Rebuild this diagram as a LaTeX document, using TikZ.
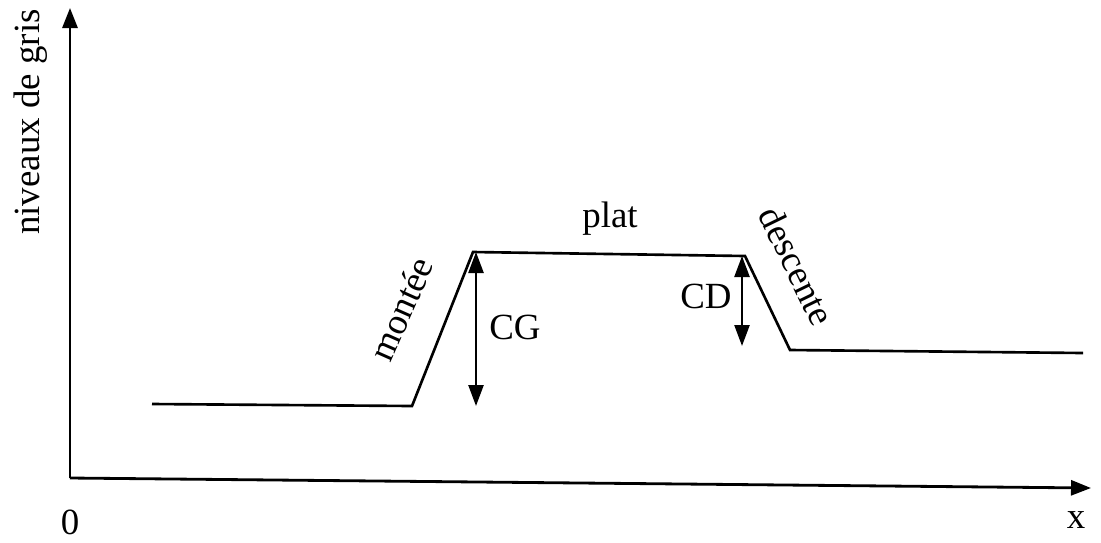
\documentclass[tikz,border=0pt]{standalone}
\usepackage{fontspec}
\setmainfont{Liberation Serif}
\usetikzlibrary{arrows.meta,positioning,calc}
\tikzset{
  axe/.style={-{Triangle[length=4mm,width=3mm]}, line width=1.6pt},
  profil/.style={line width=1.5pt, line join=miter},
  cote/.style={{Triangle[length=4.2mm,width=3mm]}-{Triangle[length=4.2mm,width=3mm]}, line width=1.4pt},
  etiq/.style={font=\fontsize{21}{24}\selectfont, inner sep=0pt}
}
\begin{document}
\begin{tikzpicture}[x=0.02cm,y=-0.02cm]
  \useasboundingbox (0,0) rectangle (1101,542);
  % --- Axes ---
  \coordinate (O) at (70,478);
  \coordinate (Ytip) at (70,8);
  \coordinate (Xtip) at (1091,488);
  \draw[axe] (O) -- (Ytip);
  \draw[axe] (O) -- (Xtip);
  \node[etiq] (zero) at (70,522) {0};
  \node[etiq] (xlab) at (1076,520) {x};
  \node[etiq, rotate=90] (ylab) at (31,122) {niveaux de gris};

  % --- Profil ---
  \coordinate (p1) at (152,404);
  \coordinate (p2) at (412,406);
  \coordinate (p3) at (473,252);
  \coordinate (p4) at (745,256);
  \coordinate (p5) at (790,350);
  \coordinate (p6) at (1083,353);
  \draw[profil] (p1) -- (p2) -- (p3) -- (p4) -- (p5) -- (p6);

  % --- Contrastes ---
  \coordinate (cgH) at (476,252);
  \coordinate (cgB) at (476,406);
  \coordinate (cdH) at (742,256);
  \coordinate (cdB) at (742,346);
  \draw[cote] (cgB) -- (cgH);
  \draw[cote] (cdB) -- (cdH);
  \node[etiq] (CG) at (515,327) {CG};
  \node[etiq] (CD) at (706,296) {CD};

  % --- Zones ---
  \node[etiq] (plat) at (610,219) {plat};
  \node[etiq, rotate=66] (montee) at (401,309) {montée};
  \node[etiq, rotate=-64] (descente) at (797,266) {descente};
\end{tikzpicture}
\end{document}
